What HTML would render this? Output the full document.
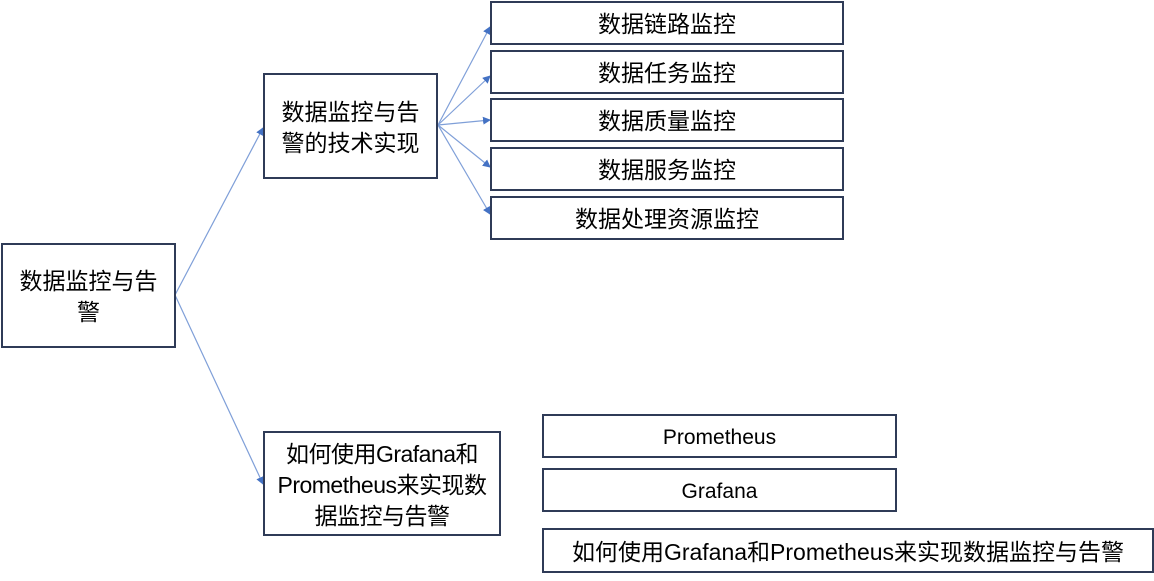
<!DOCTYPE html>
<html><head><meta charset="utf-8"><style>
body{margin:0;width:1154px;height:581px;background:#fff;position:relative;overflow:hidden;font-family:"Liberation Sans","Noto Sans CJK SC",sans-serif;color:#000}
.b{position:absolute;box-sizing:border-box;border:2px solid #2f3b57;display:flex;align-items:center;justify-content:center;text-align:center;font-size:23px;line-height:31px;background:#fff;padding-top:3px}
svg{position:absolute;left:0;top:0}
</style></head><body>
<svg width="1154" height="581">
<defs><marker id="a" markerWidth="8" markerHeight="8" refX="7" refY="4" orient="auto" markerUnits="userSpaceOnUse"><path d="M0,0L8,4L0,8z" fill="#4472c4"/></marker></defs>
<g stroke="#7f9fd8" stroke-width="1.2" fill="none" marker-end="url(#a)">
<line x1="175" y1="295" x2="263" y2="128"/>
<line x1="175" y1="295" x2="263" y2="484"/>
<line x1="438" y1="125" x2="490" y2="27"/>
<line x1="438" y1="125" x2="490" y2="76"/>
<line x1="438" y1="125" x2="490" y2="120"/>
<line x1="438" y1="125" x2="490" y2="167"/>
<line x1="438" y1="125" x2="490" y2="214"/>
</g></svg>
<div class="b" style="left:1px;top:243px;width:175px;height:105px;padding:3px 10px 0">数据监控与告警</div>
<div class="b" style="left:263px;top:73px;width:175px;height:106px;padding:3px 10px 0">数据监控与告警的技术实现</div>
<div class="b" style="left:490px;top:1px;width:354px;height:44px">数据链路监控</div>
<div class="b" style="left:490px;top:50px;width:354px;height:44px">数据任务监控</div>
<div class="b" style="left:490px;top:98px;width:354px;height:44px">数据质量监控</div>
<div class="b" style="left:490px;top:147px;width:354px;height:44px">数据服务监控</div>
<div class="b" style="left:490px;top:196px;width:354px;height:44px">数据处理资源监控</div>
<div class="b" style="left:263px;top:431px;width:238px;height:105px;padding:3px 2px 0;letter-spacing:-0.5px">如何使用Grafana和Prometheus来实现数据监控与告警</div>
<div class="b" style="left:542px;top:414px;width:355px;height:44px;font-size:21px">Prometheus</div>
<div class="b" style="left:542px;top:468px;width:355px;height:44px;font-size:21px">Grafana</div>
<div class="b" style="left:542px;top:528px;width:612px;height:45px">如何使用Grafana和Prometheus来实现数据监控与告警</div>
</body></html>
